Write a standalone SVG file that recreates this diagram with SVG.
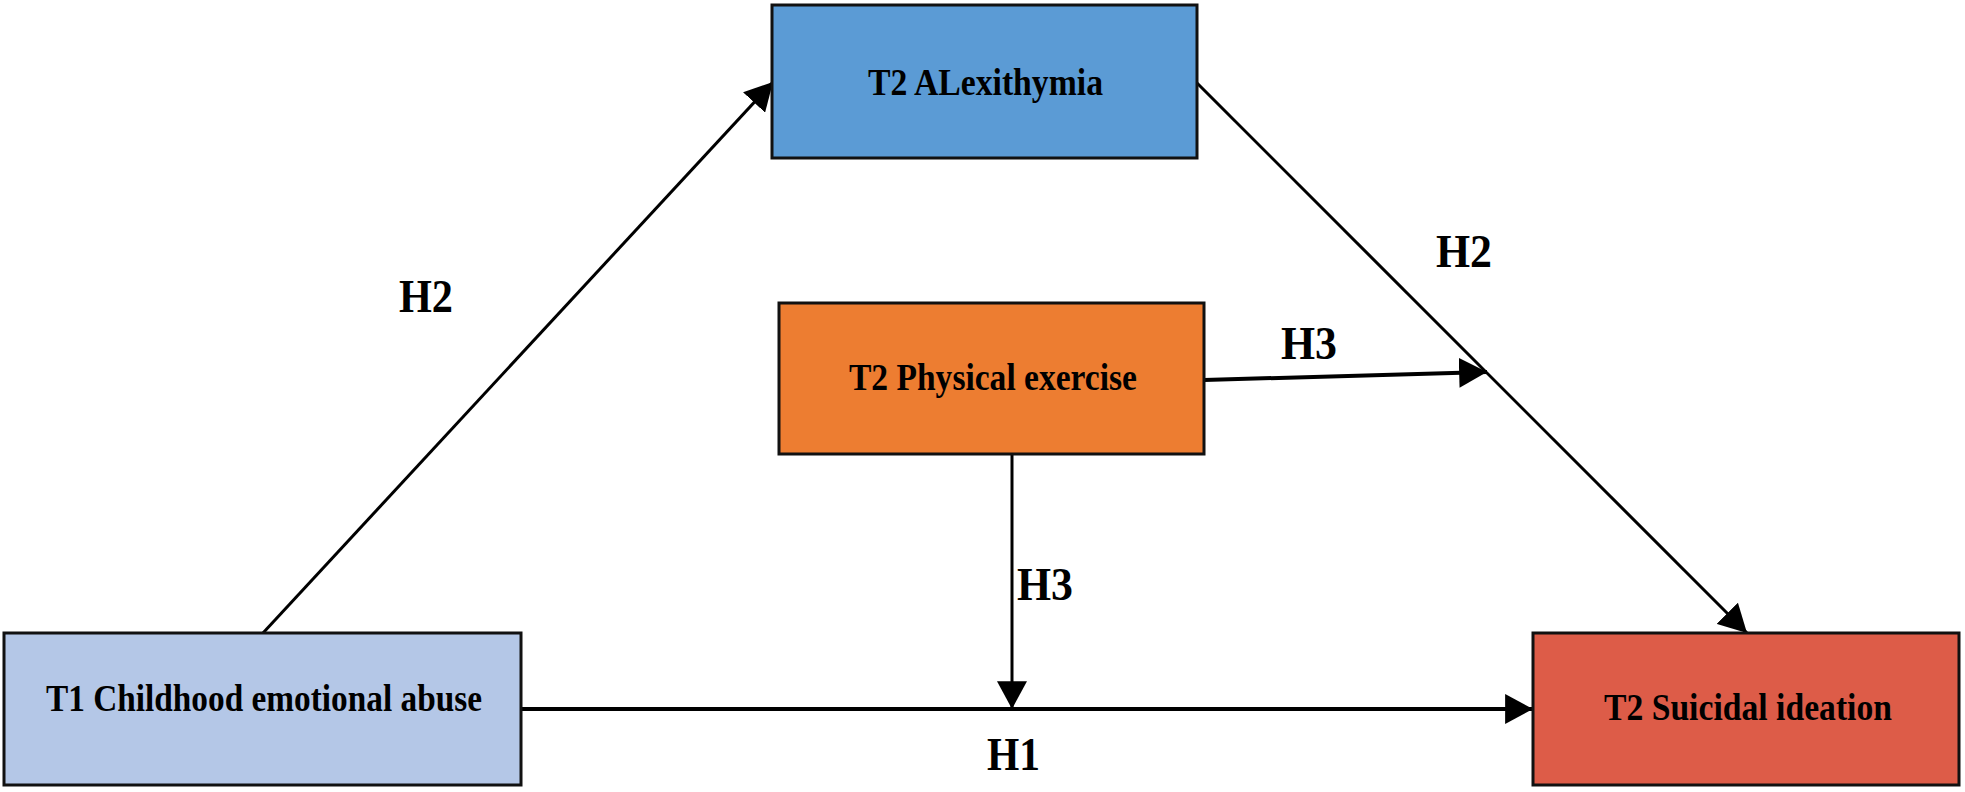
<svg xmlns="http://www.w3.org/2000/svg" width="1965" height="792" viewBox="0 0 1965 792">
<style>
.box{stroke:#111;stroke-width:3}
.t{font-family:"Liberation Serif","Times New Roman",serif;font-weight:bold;font-size:37px;fill:#000}
.lbl{font-family:"Liberation Serif","Times New Roman",serif;font-weight:bold;font-size:47px;fill:#000}
.c{stroke:#000;fill:none}
</style>
<defs>
<marker id="ah" markerUnits="userSpaceOnUse" markerWidth="28" markerHeight="30" viewBox="0 0 26 28" refX="26" refY="14" orient="auto">
<path d="M0,0 L26,14 L0,28 Z" fill="#000"/>
</marker>
</defs>
<rect width="1965" height="792" fill="#fff"/>
<g id="connectors">
<line class="c" x1="263" y1="633" x2="773" y2="82" stroke-width="3" marker-end="url(#ah)"/>
<line class="c" x1="1197" y1="83" x2="1747" y2="633" stroke-width="3" marker-end="url(#ah)"/>
<line class="c" x1="1204" y1="380" x2="1487" y2="372" stroke-width="4" marker-end="url(#ah)"/>
<line class="c" x1="1012" y1="455" x2="1012" y2="709" stroke-width="3" marker-end="url(#ah)"/>
<line class="c" x1="521" y1="709" x2="1533" y2="709" stroke-width="4" marker-end="url(#ah)"/>
<text class="lbl" x="399" y="312" textLength="54" lengthAdjust="spacingAndGlyphs">H2</text>
<text class="lbl" x="1436" y="267" textLength="56" lengthAdjust="spacingAndGlyphs">H2</text>
<text class="lbl" x="1281" y="359" textLength="56" lengthAdjust="spacingAndGlyphs">H3</text>
<text class="lbl" x="1017" y="600" textLength="56" lengthAdjust="spacingAndGlyphs">H3</text>
<text class="lbl" x="987" y="770" textLength="53" lengthAdjust="spacingAndGlyphs">H1</text>
</g>
<g id="alexithymia">
<rect class="box" x="772" y="5" width="425" height="153" fill="#5B9BD5"/>
<text class="t" x="868" y="95" textLength="235" lengthAdjust="spacingAndGlyphs">T2 ALexithymia</text>
</g>
<g id="physical-exercise">
<rect class="box" x="779" y="303" width="425" height="151" fill="#ED7D31"/>
<text class="t" x="849" y="390" textLength="288" lengthAdjust="spacingAndGlyphs">T2 Physical exercise</text>
</g>
<g id="childhood-abuse">
<rect class="box" x="4" y="633" width="517" height="152" fill="#B4C7E7"/>
<text class="t" x="46" y="711" textLength="436" lengthAdjust="spacingAndGlyphs">T1 Childhood emotional abuse</text>
</g>
<g id="suicidal-ideation">
<rect class="box" x="1533" y="633" width="426" height="152" fill="#DD5C48"/>
<text class="t" x="1604" y="720" textLength="288" lengthAdjust="spacingAndGlyphs">T2 Suicidal ideation</text>
</g>
</svg>
